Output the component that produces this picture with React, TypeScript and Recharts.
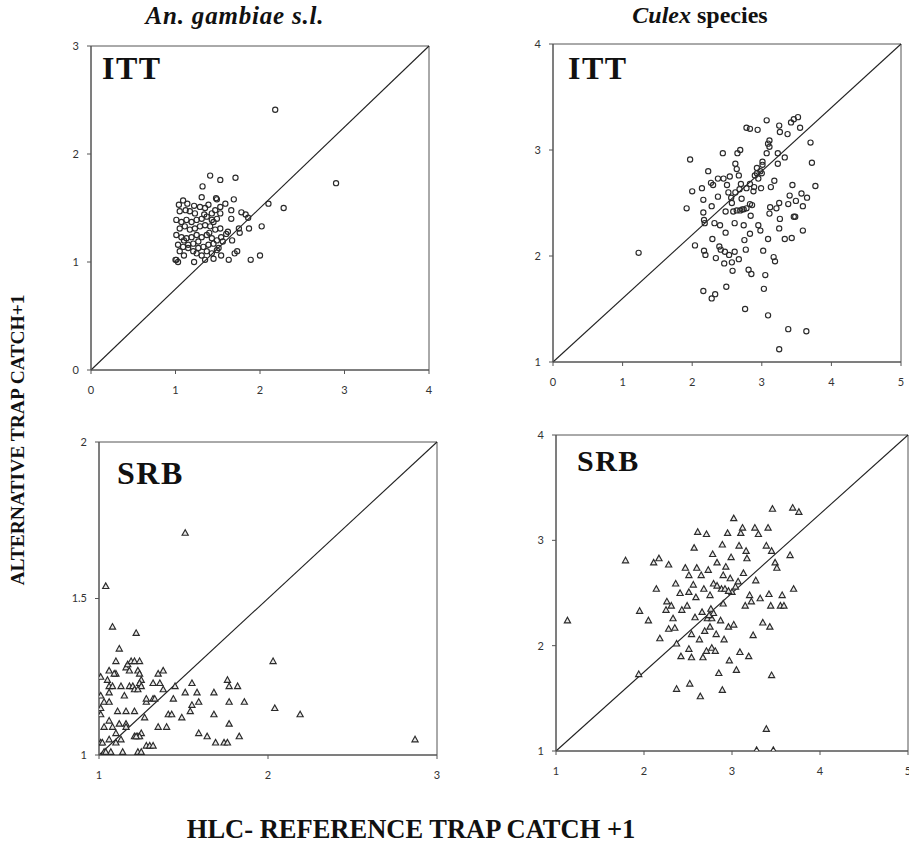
import React from 'react';
import {
  ScatterChart,
  Scatter,
  XAxis,
  YAxis,
  ReferenceLine,
  ReferenceArea,
} from 'recharts';

type Pt = [number, number];

// An. gambiae s.l. - ITT vs HLC
const ITT_GAMBIAE: Pt[] = [
  [2.18, 2.41], [2.9, 1.73], [1.41, 1.8], [1.53, 1.76], [1.71, 1.78], [1.32, 1.7], [1.31, 1.6],
  [1.69, 1.58], [1.49, 1.58], [1.59, 1.54], [2.1, 1.54], [2.28, 1.5], [1.78, 1.46], [1.83, 1.44],
  [1.66, 1.48], [1.66, 1.4], [1.86, 1.41], [2.02, 1.33], [1.87, 1.31], [1.75, 1.31], [1.76, 1.27],
  [1.62, 1.28], [1.6, 1.26], [1.67, 1.2], [1.73, 1.1], [1.7, 1.08], [2.0, 1.06], [1.89, 1.02],
  [1.63, 1.02], [1.54, 1.06], [1.45, 1.03], [1.01, 1.02], [1.03, 1.0], [1.0, 1.02], [1.1, 1.06],
  [1.22, 1.0], [1.35, 1.02],
  [1.04, 1.53], [1.09, 1.57], [1.14, 1.54], [1.05, 1.47], [1.12, 1.48], [1.17, 1.47], [1.23, 1.45],
  [1.29, 1.51], [1.35, 1.5], [1.39, 1.53], [1.43, 1.45], [1.48, 1.59], [1.53, 1.51], [1.47, 1.48],
  [1.01, 1.39], [1.07, 1.37], [1.13, 1.39], [1.19, 1.37], [1.25, 1.39], [1.31, 1.4], [1.37, 1.42],
  [1.43, 1.39], [1.49, 1.4], [1.53, 1.45], [1.05, 1.31], [1.11, 1.33], [1.17, 1.3], [1.23, 1.31],
  [1.29, 1.33], [1.35, 1.34], [1.41, 1.33], [1.47, 1.3], [1.53, 1.31], [1.01, 1.25], [1.07, 1.23],
  [1.13, 1.22], [1.19, 1.23], [1.25, 1.25], [1.31, 1.23], [1.37, 1.25], [1.43, 1.22], [1.49, 1.2],
  [1.54, 1.23], [1.03, 1.16], [1.09, 1.14], [1.15, 1.16], [1.21, 1.17], [1.27, 1.13], [1.33, 1.14],
  [1.39, 1.16], [1.45, 1.17], [1.51, 1.13], [1.56, 1.19], [1.25, 1.08], [1.31, 1.06], [1.37, 1.1],
  [1.43, 1.08], [1.49, 1.11], [1.15, 1.13], [1.21, 1.1], [1.05, 1.1], [1.1, 1.2], [1.27, 1.19],
  [1.4, 1.27], [1.22, 1.52], [1.34, 1.44], [1.45, 1.37],
];

// Culex species - ITT vs HLC
const ITT_CULEX: Pt[] = [
  [1.23, 2.03], [1.92, 2.45], [1.97, 2.91], [2.0, 2.61], [2.04, 2.1], [2.14, 2.64], [2.16, 2.53],
  [2.16, 2.41], [2.17, 2.34], [2.18, 2.31], [2.17, 2.05], [2.19, 2.01], [2.23, 2.8], [2.27, 2.69],
  [2.28, 2.47], [2.29, 2.16], [2.32, 2.31], [2.3, 2.67], [2.34, 1.98], [2.37, 2.56], [2.37, 2.73],
  [2.39, 2.09], [2.4, 2.29], [2.41, 2.06], [2.44, 2.97], [2.45, 2.73], [2.46, 1.93], [2.47, 2.04],
  [2.48, 2.42], [2.48, 2.22], [2.5, 2.67], [2.52, 2.6], [2.53, 2.01], [2.54, 2.75], [2.56, 2.55],
  [2.57, 1.94], [2.58, 1.86], [2.61, 2.04], [2.61, 2.31], [2.62, 2.87], [2.64, 2.82], [2.65, 2.97],
  [2.67, 1.97], [2.69, 3.0], [2.67, 2.76], [2.7, 2.68], [2.71, 2.54], [2.72, 2.44], [2.74, 2.29],
  [2.75, 2.15], [2.77, 2.06], [2.78, 3.21], [2.83, 3.2], [2.81, 1.87], [2.85, 1.83], [2.83, 2.21],
  [2.84, 2.38], [2.86, 2.48], [2.88, 2.61], [2.89, 2.65], [2.9, 2.76], [2.93, 2.83], [2.94, 3.19],
  [2.95, 2.29], [2.98, 2.24], [2.99, 2.64], [3.0, 2.78], [3.01, 2.89], [3.02, 2.05], [3.03, 1.69],
  [3.05, 1.82], [3.07, 3.28], [3.07, 2.97], [3.09, 3.06], [3.11, 3.09], [3.11, 3.03], [3.13, 2.65],
  [3.12, 2.46], [3.11, 2.4], [3.09, 2.16], [3.09, 1.44], [3.17, 1.99], [3.18, 2.71], [3.19, 1.95],
  [3.21, 2.45], [3.23, 2.87], [3.23, 2.97], [3.25, 3.23], [3.26, 3.17], [3.25, 2.5], [3.26, 2.35],
  [3.25, 2.26], [3.25, 1.12], [3.33, 2.16], [3.33, 2.93], [3.37, 3.15], [3.38, 2.49], [3.4, 2.57],
  [3.42, 3.26], [3.43, 2.17], [3.44, 2.67], [3.46, 2.37], [3.46, 3.29], [3.48, 2.37], [3.49, 2.52],
  [3.52, 3.31], [3.55, 3.21], [3.57, 2.59], [3.59, 2.47], [3.59, 2.24], [3.65, 2.55], [3.64, 1.29],
  [3.38, 1.31], [3.7, 3.07], [3.72, 2.88], [3.77, 2.66], [2.16, 1.67], [2.28, 1.6], [2.33, 1.64],
  [2.49, 1.71], [2.76, 1.5], [2.59, 2.42], [2.64, 2.43], [2.69, 2.43], [2.74, 2.44], [2.78, 2.45],
  [2.83, 2.49], [2.93, 2.78], [2.98, 2.8], [3.01, 2.86], [2.95, 2.73], [2.62, 2.6], [2.57, 2.5],
  [2.68, 2.63], [2.78, 2.64], [2.83, 2.68],
];

// An. gambiae s.l. - SRB vs HLC
const SRB_GAMBIAE: Pt[] = [
  [1.51, 1.71], [1.04, 1.54], [1.08, 1.41], [1.22, 1.39], [1.12, 1.34], [1.1, 1.3], [1.1, 1.26],
  [2.03, 1.3], [2.04, 1.15], [2.19, 1.13], [2.87, 1.05], [1.38, 1.27], [1.01, 1.25], [1.05, 1.24],
  [1.06, 1.27], [1.09, 1.26], [1.16, 1.28], [1.17, 1.29], [1.19, 1.3], [1.21, 1.3], [1.24, 1.3],
  [1.23, 1.27], [1.24, 1.26], [1.25, 1.24], [1.18, 1.27], [1.35, 1.26], [1.32, 1.23], [1.36, 1.23],
  [1.38, 1.21], [1.45, 1.22], [1.55, 1.23], [1.51, 1.2], [1.58, 1.2], [1.59, 1.17], [1.55, 1.16],
  [1.54, 1.14], [1.68, 1.2], [1.76, 1.24], [1.77, 1.22], [1.82, 1.22], [1.77, 1.17], [1.86, 1.17],
  [1.68, 1.13], [1.77, 1.1], [1.83, 1.06], [1.59, 1.07], [1.64, 1.06], [1.69, 1.04], [1.74, 1.04],
  [1.76, 1.04], [1.44, 1.18], [1.49, 1.12], [1.41, 1.13], [1.43, 1.13], [1.35, 1.09], [1.4, 1.09],
  [1.32, 1.18], [1.33, 1.18], [1.27, 1.12], [1.25, 1.07], [1.23, 1.06], [1.24, 1.06], [1.23, 1.01],
  [1.25, 1.01], [1.28, 1.03], [1.3, 1.03], [1.32, 1.03], [1.14, 1.01], [1.07, 1.01], [1.03, 1.01],
  [1.04, 1.01], [1.01, 1.04], [1.02, 1.04], [1.06, 1.05], [1.1, 1.04], [1.13, 1.05], [1.03, 1.09],
  [1.08, 1.09], [1.12, 1.1], [1.16, 1.1], [1.1, 1.07], [1.16, 1.09], [1.01, 1.13], [1.06, 1.11],
  [1.11, 1.14], [1.16, 1.14], [1.21, 1.14], [1.01, 1.15], [1.03, 1.17], [1.06, 1.17], [1.01, 1.19],
  [1.06, 1.2], [1.06, 1.22], [1.08, 1.22], [1.15, 1.19], [1.13, 1.22], [1.18, 1.22], [1.2, 1.22],
  [1.21, 1.21], [1.24, 1.23], [1.25, 1.22], [1.23, 1.21], [1.21, 1.06], [1.22, 1.06], [1.28, 1.17],
  [1.28, 1.18],
];

// Culex species - SRB vs HLC
const SRB_CULEX: Pt[] = [
  [1.13, 2.24], [1.79, 2.81], [1.95, 2.33], [1.94, 1.73], [2.05, 2.24], [2.11, 2.79], [2.17, 2.83],
  [2.14, 2.54], [2.28, 2.77], [2.18, 2.07], [2.25, 2.34], [2.26, 2.42], [2.28, 2.16], [2.31, 2.38],
  [2.33, 2.26], [2.35, 2.17], [2.36, 2.59], [2.37, 2.02], [2.37, 1.59], [2.41, 2.5], [2.42, 1.9],
  [2.43, 2.34], [2.47, 2.74], [2.49, 2.38], [2.51, 2.67], [2.51, 2.51], [2.51, 1.97], [2.52, 1.64],
  [2.54, 2.11], [2.54, 1.89], [2.56, 2.58], [2.57, 2.93], [2.58, 2.27], [2.59, 2.46], [2.6, 2.74],
  [2.61, 3.08], [2.63, 2.06], [2.64, 1.52], [2.65, 2.67], [2.66, 2.32], [2.67, 1.89], [2.68, 2.54],
  [2.69, 2.14], [2.71, 3.06], [2.71, 1.95], [2.72, 2.26], [2.73, 2.72], [2.75, 2.48], [2.76, 2.35],
  [2.77, 1.98], [2.78, 2.87], [2.79, 2.59], [2.81, 1.95], [2.82, 2.11], [2.83, 2.79], [2.85, 1.74],
  [2.87, 2.24], [2.88, 2.54], [2.89, 2.96], [2.89, 1.58], [2.9, 2.67], [2.9, 2.4], [2.91, 2.06],
  [2.93, 2.75], [2.95, 3.07], [2.96, 2.18], [2.97, 1.86], [2.98, 2.64], [2.99, 2.84], [3.0, 2.51],
  [3.02, 3.21], [3.02, 2.2], [3.04, 2.56], [3.05, 1.77], [3.07, 2.61], [3.08, 2.95], [3.09, 1.94],
  [3.1, 3.07], [3.12, 3.12], [3.13, 2.69], [3.15, 2.38], [3.16, 2.9], [3.17, 2.83], [3.19, 1.9],
  [3.2, 2.48], [3.22, 2.42], [3.24, 2.1], [3.26, 3.12], [3.27, 2.62], [3.28, 1.01], [3.3, 3.06],
  [3.32, 2.45], [3.35, 2.22], [3.39, 2.95], [3.39, 1.21], [3.41, 3.12], [3.42, 2.49], [3.43, 2.18],
  [3.45, 2.9], [3.44, 2.38], [3.45, 1.72], [3.46, 3.3], [3.47, 1.01], [3.49, 2.79], [3.51, 2.74],
  [3.55, 2.38], [3.57, 2.48], [3.59, 2.38], [3.66, 2.86], [3.69, 3.31], [3.7, 2.54], [3.76, 3.27],
  [2.83, 2.57], [2.92, 2.54], [2.96, 2.52], [2.75, 2.18], [2.77, 2.26], [2.79, 2.31], [2.74, 2.29],
];

const TICKS_ITT_GAMBIAE_X = [0, 1, 2, 3, 4];
const TICKS_ITT_GAMBIAE_Y = [0, 1, 2, 3];
const TICKS_ITT_CULEX_X = [0, 1, 2, 3, 4, 5];
const TICKS_ITT_CULEX_Y = [1, 2, 3, 4];
const TICKS_SRB_GAMBIAE_X = [1, 2, 3];
const TICKS_SRB_GAMBIAE_Y = [1, 1.5, 2];
const TICKS_SRB_CULEX_X = [1, 2, 3, 4, 5];
const TICKS_SRB_CULEX_Y = [1, 2, 3, 4];

const SERIF = '"Liberation Serif", "Times New Roman", serif';
const tickStyle = { fill: '#333', fontSize: 11, fontFamily: 'Lato, "Open Sans", sans-serif' };

function CircleMark(props: any) {
  const { cx, cy } = props;
  if (cx == null || cy == null) return null;
  return <circle cx={cx} cy={cy} r={2.6} fill="none" stroke="#2a2a2a" strokeWidth={1.15} />;
}

function TriangleMark(props: any) {
  const { cx, cy } = props;
  if (cx == null || cy == null) return null;
  const s = 3.1;
  return (
    <polygon
      points={`${cx},${cy - s} ${cx - s},${cy + s * 0.8} ${cx + s},${cy + s * 0.8}`}
      fill="#e8e8e8"
      stroke="#2a2a2a"
      strokeWidth={1.15}
    />
  );
}

interface PanelProps {
  x0: number;
  y0: number;
  x1: number;
  y1: number;
  xTicks: number[];
  yTicks: number[];
  points: Pt[];
  marker: 'circle' | 'triangle';
  label: string;
  labelLeft: number;
  labelTop: number;
  labelSize: number;
}

function Panel({ x0, y0, x1, y1, xTicks, yTicks, points, marker, label, labelLeft, labelTop, labelSize }: PanelProps) {
  const padL = 40;
  const padT = 10;
  const padR = 8;
  const padB = 35;
  const width = x1 - x0 + padL + padR;
  const height = y1 - y0 + padT + padB;
  const xd = [xTicks[0], xTicks[xTicks.length - 1]];
  const yd = [yTicks[0], yTicks[yTicks.length - 1]];
  const data = points.map(([x, y]) => ({ x, y }));

  return (
    <>
      <div style={{ position: 'absolute', left: x0 - padL, top: y0 - padT }}>
        <ScatterChart width={width} height={height} margin={{ top: padT, right: padR, bottom: 0, left: 0 }}>
          <XAxis
            type="number"
            dataKey="x"
            domain={xd}
            ticks={xTicks}
            allowDataOverflow
            height={padB}
            tick={tickStyle}
            tickSize={4}
            tickMargin={12}
            axisLine={{ stroke: '#555' }}
            tickLine={{ stroke: '#555' }}
          />
          <YAxis
            type="number"
            dataKey="y"
            domain={yd}
            ticks={yTicks}
            allowDataOverflow
            width={padL}
            tick={tickStyle}
            tickSize={4}
            tickMargin={8}
            axisLine={{ stroke: '#555' }}
            tickLine={{ stroke: '#555' }}
          />
          <ReferenceArea
            x1={xd[0]}
            x2={xd[1]}
            y1={yd[0]}
            y2={yd[1]}
            fill="none"
            fillOpacity={0}
            stroke="#555"
            strokeWidth={1}
          />
          <ReferenceLine
            segment={[
              { x: xd[0], y: yd[0] },
              { x: xd[1], y: yd[1] },
            ]}
            stroke="#222"
            strokeWidth={1.1}
          />
          <Scatter
            data={data}
            isAnimationActive={false}
            shape={marker === 'circle' ? CircleMark : TriangleMark}
          />
        </ScatterChart>
      </div>
      <div
        style={{
          position: 'absolute',
          left: labelLeft,
          top: labelTop,
          fontFamily: SERIF,
          fontWeight: 'bold',
          fontSize: labelSize,
          letterSpacing: 1.5,
          lineHeight: 1,
          color: '#111',
        }}
      >
        {label}
      </div>
    </>
  );
}

export default function App() {
  return (
    <div
      style={{
        position: 'absolute',
        left: 0,
        top: 0,
        width: 909,
        height: 845,
        overflow: 'hidden',
        background: '#fff',
      }}
    >
      <div
        style={{
          position: 'absolute',
          left: 105,
          top: 2,
          width: 260,
          textAlign: 'center',
          fontFamily: SERIF,
          fontWeight: 'bold',
          fontStyle: 'italic',
          fontSize: 25,
          letterSpacing: 0.8,
          color: '#111',
        }}
      >
        An. gambiae s.l.
      </div>
      <div
        style={{
          position: 'absolute',
          left: 580,
          top: 2,
          width: 240,
          textAlign: 'center',
          fontFamily: SERIF,
          fontWeight: 'bold',
          fontSize: 24,
          color: '#111',
        }}
      >
        <i>Culex</i> species
      </div>

      <Panel
        x0={91} y0={46} x1={429} y1={370}
        xTicks={TICKS_ITT_GAMBIAE_X} yTicks={TICKS_ITT_GAMBIAE_Y}
        points={ITT_GAMBIAE} marker="circle"
        label="ITT" labelLeft={102} labelTop={52} labelSize={32}
      />
      <Panel
        x0={553} y0={44} x1={901} y1={362}
        xTicks={TICKS_ITT_CULEX_X} yTicks={TICKS_ITT_CULEX_Y}
        points={ITT_CULEX} marker="circle"
        label="ITT" labelLeft={568} labelTop={52} labelSize={32}
      />
      <Panel
        x0={99} y0={442} x1={437} y1={755}
        xTicks={TICKS_SRB_GAMBIAE_X} yTicks={TICKS_SRB_GAMBIAE_Y}
        points={SRB_GAMBIAE} marker="triangle"
        label="SRB" labelLeft={117} labelTop={457} labelSize={32}
      />
      <Panel
        x0={556} y0={435} x1={908} y1={751}
        xTicks={TICKS_SRB_CULEX_X} yTicks={TICKS_SRB_CULEX_Y}
        points={SRB_CULEX} marker="triangle"
        label="SRB" labelLeft={577} labelTop={446} labelSize={30}
      />

      <div
        style={{
          position: 'absolute',
          left: 18 - 170,
          top: 440 - 12,
          width: 340,
          height: 24,
          lineHeight: '24px',
          textAlign: 'center',
          transform: 'rotate(-90deg)',
          whiteSpace: 'nowrap',
          fontFamily: SERIF,
          fontWeight: 'bold',
          fontSize: 19.5,
          color: '#111',
        }}
      >
        ALTERNATIVE TRAP CATCH+1
      </div>
      <div
        style={{
          position: 'absolute',
          left: 111,
          top: 814,
          width: 600,
          textAlign: 'center',
          whiteSpace: 'nowrap',
          fontFamily: SERIF,
          fontWeight: 'bold',
          fontSize: 26.5,
          color: '#111',
        }}
      >
        HLC- REFERENCE TRAP CATCH +1
      </div>
    </div>
  );
}
